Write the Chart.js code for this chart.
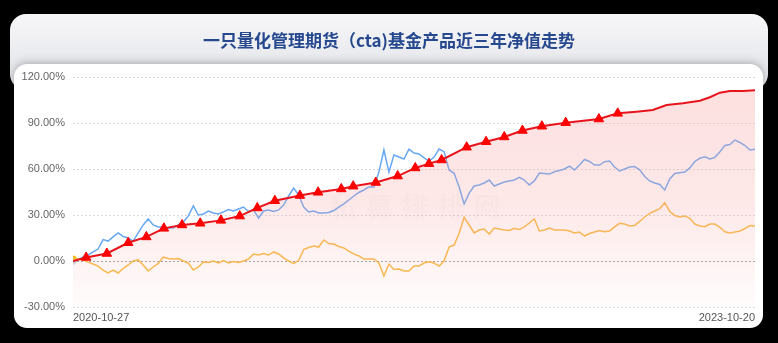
<!DOCTYPE html>
<html>
<head>
<meta charset="utf-8">
<script src="https://cdn.jsdelivr.net/npm/chart.js@4"></script>
<style>
  html, body { margin: 0; padding: 0; background: #000; }
  #wrap { width: 778px; height: 343px; }
</style>
</head>
<body>
<div id="wrap"><canvas id="navChart" width="778" height="343"></canvas></div>
<script>
// ========== DATA ==========
const titleText = "一只量化管理期货（cta)基金产品近三年净值走势";
const xTickDays = [0, 1088];
const xTickLabels = ["2020-10-27", "2023-10-20"];
const yTicks = [-30, 0, 30, 60, 90, 120];
const sampleStep = 8; // days between samples of the two benchmark lines

// fund (red) - day offset, cumulative return %, triangle marker flag
const redDays = [0, 21, 54, 88, 117, 145, 174, 203, 236, 266, 294, 322, 362, 391, 428, 447, 483, 518, 546, 568,
    588, 628, 659, 688, 717, 748, 786, 839, 869, 899, 925, 947, 973, 1000, 1016, 1032, 1048, 1069, 1088];
const redVals = [0, 2.3, 4.9, 11.9, 15.7, 21.3, 23.5, 24.6, 26.5, 29.3, 34.6, 39.3, 42.7, 44.8, 47.0, 48.8, 51.2, 55.4, 60.7, 63.5,
    65.9, 74.2, 77.8, 80.9, 85.1, 87.9, 90.2, 92.6, 96.3, 97.4, 98.5, 101.7, 102.9, 104.5, 106.8, 109.8, 110.9, 110.9, 111.3];
const redMarked = [0, 1, 1, 1, 1, 1, 1, 1, 1, 1, 1, 1, 1, 1, 1, 1, 1, 1, 1, 1,
    1, 1, 1, 1, 1, 1, 1, 1, 1, 0, 0, 0, 0, 0, 0, 0, 0, 0, 0];

// blue line
const blueVals = [-0.7, 0.7, 2.6, 3.9, 5.9, 7.8, 14.0, 13.0, 15.7, 18.3,
    16.0, 15.0, 13.0, 18.3, 23.5, 27.4, 23.5, 22.2, 22.2, 21.5,
    21.5, 23.5, 25.4, 29.4, 35.9, 30.0, 30.7, 32.6, 31.3, 30.7,
    32.0, 33.6, 32.6, 33.9, 35.2, 32.3, 33.3, 28.0, 32.6, 33.3,
    32.3, 33.3, 36.5, 42.4, 47.6, 43.0, 35.2, 32.0, 32.6, 31.3,
    31.3, 31.6, 32.9, 35.2, 37.2, 39.8, 42.4, 44.7, 46.3, 48.3,
    48.3, 58.0, 72.4, 58.0, 69.1, 67.8, 66.5, 73.0, 70.4, 69.8,
    67.2, 65.2, 67.8, 73.0, 71.3, 59.4, 57.2, 48.3, 37.2, 44.3,
    48.9, 49.6, 50.9, 52.8, 48.9, 50.2, 51.5, 52.2, 52.8, 54.5,
    52.8, 49.6, 52.2, 57.4, 57.1, 56.7, 58.2, 59.0, 60.0, 61.9,
    59.4, 62.6, 66.2, 64.9, 62.6, 62.6, 64.8, 65.2, 61.3, 58.7,
    60.0, 61.3, 61.6, 59.4, 55.1, 52.2, 50.9, 49.9, 46.3, 53.5,
    57.1, 57.6, 58.0, 60.7, 64.9, 67.0, 68.0, 66.5, 67.6, 71.3,
    75.3, 76.0, 78.9, 77.3, 75.3, 72.4, 72.9];

// orange line
const orangeVals = [1.0, 1.3, 0.7, -0.7, -2.0, -3.3, -5.9, -7.8, -5.9, -7.8,
    -4.9, -2.6, 0.0, 0.7, -2.6, -6.5, -3.9, -1.6, 2.6, 1.6,
    1.3, 1.6, 0.0, -1.3, -5.9, -3.9, -0.7, -1.0, 0.0, -1.3,
    0.3, -1.3, -0.3, -1.0, 0.0, 1.3, 4.6, 3.9, 4.9, 3.9,
    5.9, 4.6, 2.0, 0.0, -1.6, 0.3, 7.5, 8.8, 9.8, 9.1,
    13.7, 11.4, 11.1, 9.5, 8.5, 6.5, 4.6, 3.3, 1.3, 1.3,
    1.3, -1.3, -9.8, -2.0, -5.5, -5.2, -6.5, -6.5, -3.3, -3.3,
    -1.3, -0.5, -1.3, -3.3, 0.0, 9.1, 10.4, 18.1, 28.5, 23.5,
    18.3, 20.2, 20.9, 17.6, 21.5, 20.9, 20.2, 19.9, 21.3, 20.5,
    22.2, 24.8, 27.4, 19.6, 20.2, 21.5, 20.2, 20.2, 20.2, 19.6,
    18.3, 18.9, 16.3, 17.9, 18.9, 19.9, 19.1, 19.6, 22.2, 24.6,
    24.1, 22.8, 23.2, 25.8, 28.7, 31.1, 32.6, 34.2, 38.0, 32.3,
    29.7, 28.7, 29.4, 27.8, 24.1, 22.8, 22.4, 24.1, 24.1, 22.0,
    19.1, 18.3, 18.9, 19.6, 21.2, 23.2, 22.8];

// ========== HELPERS ==========
function roundRect(ctx, x, y, w, h, r) {
    ctx.beginPath();
    ctx.moveTo(x + r, y);
    ctx.arcTo(x + w, y, x + w, y + h, r);
    ctx.arcTo(x + w, y + h, x, y + h, r);
    ctx.arcTo(x, y + h, x, y, r);
    ctx.arcTo(x, y, x + w, y, r);
    ctx.closePath();
}

// background card, white panel, title
const framePlugin = {
    id: "frame",
    beforeDraw(chart) {
        const ctx = chart.ctx;
        ctx.save();
        ctx.fillStyle = "#000";
        ctx.fillRect(0, 0, chart.width, chart.height);

        const g = ctx.createLinearGradient(0, 14, 0, 70);
        g.addColorStop(0, "#f7f7f9");
        g.addColorStop(1, "#e6e7eb");
        roundRect(ctx, 10, 14, 758, 76, 16);
        ctx.fillStyle = g;
        ctx.fill();

        ctx.shadowColor = "rgba(0,0,0,0.28)";
        ctx.shadowBlur = 9;
        ctx.shadowOffsetY = -1;
        roundRect(ctx, 14, 64, 749, 264, 13);
        ctx.fillStyle = "#fff";
        ctx.fill();
        ctx.restore();

        ctx.save();
        ctx.font = "bold 17px 'Noto Sans CJK SC'";
        ctx.fillStyle = "#26488e";
        ctx.textAlign = "center";
        ctx.textBaseline = "middle";
        ctx.fillText(titleText, 389, 41);
        ctx.restore();
    },
    beforeDatasetsDraw(chart) {
        // faint watermark
        const ctx = chart.ctx;
        ctx.save();
        ctx.font = "bold 27px 'Noto Sans CJK SC'";
        ctx.fillStyle = "rgba(170,170,170,0.06)";
        ctx.textAlign = "center";
        ctx.textBaseline = "middle";
        const chars = "私募排排网";
        for (let i = 0; i < chars.length; i++) {
            ctx.fillText(chars[i], 343 + i * 36, 207);
        }
        ctx.restore();
    }
};

// ========== CHART ==========
const ctx = document.getElementById("navChart").getContext("2d");

new Chart(ctx, {
    type: "line",
    data: {
        datasets: [{
                label: "基金",
                data: redDays.map((d, i) => ({ x: d, y: redVals[i] })),
                borderColor: "#e8141c",
                borderWidth: 2,
                tension: 0,
                fill: "start",
                backgroundColor: (c) => {
                    const area = c.chart.chartArea;
                    if (!area) return "rgba(248,160,160,0.2)";
                    const g = c.chart.ctx.createLinearGradient(0, area.top, 0, area.bottom);
                    g.addColorStop(0, "rgba(248,160,160,0.34)");
                    g.addColorStop(0.55, "rgba(248,160,160,0.24)");
                    g.addColorStop(1, "rgba(248,160,160,0.03)");
                    return g;
                },
                pointStyle: "triangle",
                pointRadius: (c) => redMarked[c.dataIndex] ? 5.5 : 0,
                pointBorderWidth: 1,
                pointBackgroundColor: "#ff0000",
                pointBorderColor: "#ff0000"
            },
            {
                label: "指数1",
                data: blueVals.map((v, i) => ({ x: i * sampleStep, y: v })),
                borderColor: "#67a8f4",
                borderWidth: 1.5,
                tension: 0,
                fill: false,
                pointRadius: (c) => c.dataIndex === 0 ? 3 : 0,
                pointBackgroundColor: "rgba(190,205,245,0.7)",
                pointBorderWidth: 0
            },
            {
                label: "指数2",
                data: orangeVals.map((v, i) => ({ x: i * sampleStep, y: v })),
                borderColor: "#f8bb45",
                borderWidth: 1.5,
                tension: 0,
                fill: false,
                pointRadius: (c) => c.dataIndex === 0 ? 4 : 0,
                pointBackgroundColor: "#f7bf2a",
                pointBorderWidth: 0
            }
        ]
    },
    options: {
        responsive: false,
        animation: false,
        layout: { padding: { top: 77, right: 23, bottom: 0, left: 0 } },
        plugins: {
            legend: { display: false },
            tooltip: { enabled: false }
        },
        scales: {
            x: {
                type: "linear",
                min: xTickDays[0],
                max: xTickDays[1],
                afterBuildTicks: (axis) => { axis.ticks = xTickDays.map(v => ({ value: v })); },
                afterFit: (axis) => { axis.height = 36; },
                grid: { display: false, drawTicks: false, tickLength: 0 },
                border: { display: false },
                ticks: {
                    align: "inner",
                    maxRotation: 0,
                    padding: 4,
                    color: "#555",
                    font: { family: "'Liberation Sans', Arial", size: 11 },
                    callback: (v) => xTickLabels[xTickDays.indexOf(v)]
                }
            },
            y: {
                min: yTicks[0],
                max: yTicks[yTicks.length - 1],
                afterBuildTicks: (axis) => { axis.ticks = yTicks.map(v => ({ value: v })); },
                afterFit: (axis) => { axis.width = 73; },
                grid: {
                    drawTicks: false,
                    lineWidth: 1,
                    color: (c) => c.tick && c.tick.value === 0 ? "#a3a3a3" : "#d9d9d9"
                },
                border: { display: false, dash: [2, 2] },
                ticks: {
                    padding: 8,
                    color: "#666",
                    font: { family: "'Liberation Sans', Arial", size: 11 },
                    callback: (v) => v.toFixed(2) + "%"
                }
            }
        }
    },
    plugins: [framePlugin]
});
</script>
</body>
</html>
